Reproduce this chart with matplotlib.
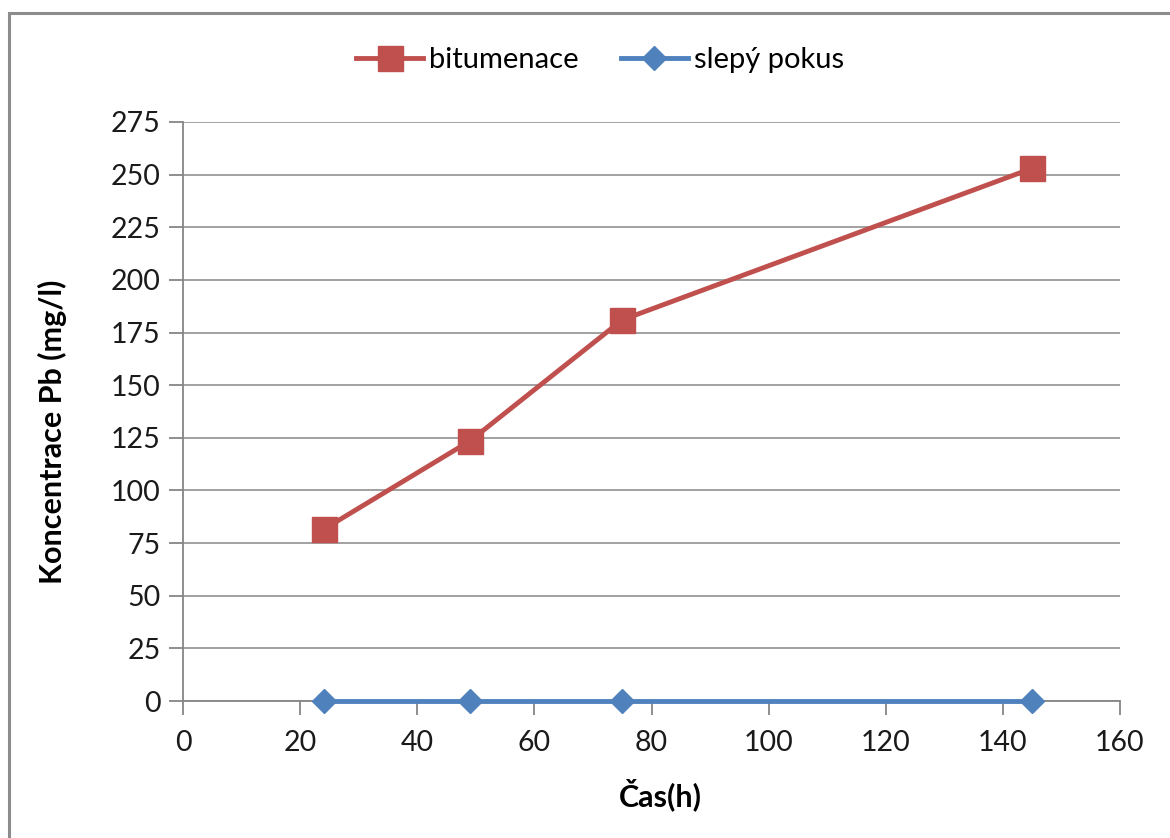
import matplotlib
matplotlib.use("Agg")
import matplotlib.pyplot as plt
from matplotlib.patches import Rectangle

# Sampling times (h) and Pb concentration (mg/l)
cas_h = [24, 49, 75, 145]
bitumenace = [81.5, 123.5, 181, 253]
slepy_pokus = [0, 0, 0, 0]

series_names = ["bitumenace", "slepý pokus"]
x_ticks = [0, 20, 40, 60, 80, 100, 120, 140, 160]
y_ticks = [0, 25, 50, 75, 100, 125, 150, 175, 200, 225, 250, 275]

RED = "#C0504D"
BLUE = "#4F81BD"
GRID = "#9A9A9A"
AXIS = "#868686"

plt.rcParams["font.family"] = ["Lato", "DejaVu Sans"]

fig = plt.figure(figsize=(11.70, 8.38), dpi=100)
ax = fig.add_axes([183 / 1170, 1 - 701 / 838, (1120 - 183) / 1170, (701 - 122) / 838])

# chart frame
fig.patches.append(Rectangle((9 / 1170, -0.01), 1.02, 1 - 13 / 838 + 0.01,
                             transform=fig.transFigure, fill=False,
                             edgecolor="#8C8C8C", linewidth=2.2, zorder=0))

ax.plot(cas_h, bitumenace, color=RED, linewidth=3.5, marker="s",
        markersize=18, markerfacecolor=RED, markeredgecolor=RED,
        label=series_names[0], zorder=4, clip_on=False)
ax.plot(cas_h, slepy_pokus, color=BLUE, linewidth=3.5, marker="D",
        markersize=12, markerfacecolor=BLUE, markeredgecolor=BLUE,
        label=series_names[1], zorder=5, clip_on=False)

ax.set_xlim(0, 160)
ax.set_ylim(0, 275)
ax.set_xticks(x_ticks)
ax.set_yticks(y_ticks)
ax.yaxis.grid(True, color=GRID, linewidth=1.3)
ax.set_axisbelow(True)

for side in ("top", "right"):
    ax.spines[side].set_visible(False)
for side in ("left", "bottom"):
    ax.spines[side].set_color(AXIS)
    ax.spines[side].set_linewidth(1.3)

ax.tick_params(axis="both", direction="out", length=10, width=1.3,
               color=AXIS, labelsize=20.5, labelcolor="#1A1A1A")
ax.tick_params(axis="y", pad=6)
ax.tick_params(axis="x", pad=11)

ax.set_xlabel("Čas(h)", fontsize=22, fontweight="bold")
ax.set_ylabel("Koncentrace Pb (mg/l)", fontsize=22, fontweight="bold")
ax.xaxis.set_label_coords((660 - 183) / 937, -(778 - 701) / 579)
ax.yaxis.set_label_coords((67 - 183) / 937, (701 - 432) / 579)

fig.legend(loc="center", bbox_to_anchor=(600 / 1170, 1 - 60 / 838), ncol=2,
           frameon=False, fontsize=21, handlelength=2.3, columnspacing=1.45,
           handletextpad=0.2)

fig.savefig("out.png", dpi=100, facecolor="white")
